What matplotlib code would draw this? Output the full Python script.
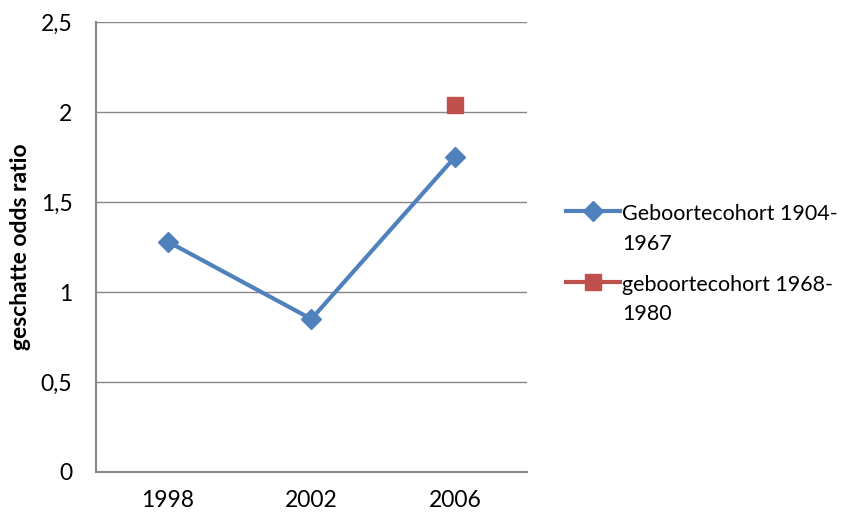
import matplotlib.pyplot as plt
from matplotlib.legend_handler import HandlerLine2D
from matplotlib.ticker import FuncFormatter

plt.rcParams['font.family'] = ['Lato', 'DejaVu Sans']

# data
years = ['1998', '2002', '2006']
cohort_old = [1.28, 0.85, 1.75]
cohort_young = [None, None, 2.04]
label_old = 'Geboortecohort 1904-\n1967'
label_young = 'geboortecohort 1968-\n1980'
y_ticks = [0, 0.5, 1, 1.5, 2, 2.5]


# legend handle lined up with the first line of a two-line label
class FirstLineHandler(HandlerLine2D):
    def __init__(self, shift, **kw):
        super().__init__(**kw)
        self.shift = shift

    def create_artists(self, legend, orig_handle, xdescent, ydescent,
                       width, height, fontsize, trans):
        arts = super().create_artists(legend, orig_handle, xdescent, ydescent,
                                      width, height, fontsize, trans)
        for a in arts:
            a.set_ydata([y + self.shift for y in a.get_ydata()])
        return arts


fig = plt.figure(figsize=(8.48, 5.16), dpi=100)
ax = fig.add_axes([0.1132, 0.0853, 0.508, 0.872])

x = range(len(years))
l1, = ax.plot(x, cohort_old, color='#4F81BD', lw=3, marker='D', ms=10,
              label=label_old, zorder=3)
l2, = ax.plot(x, [v if v is not None else float('nan') for v in cohort_young],
              color='#C0504D', lw=3, marker='s', ms=12, label=label_young, zorder=3)

ax.set_xlim(-0.5, len(years) - 0.5)
ax.set_ylim(0, 2.5)
ax.set_xticks(list(x))
ax.set_xticklabels(years)
ax.set_yticks(y_ticks)
ax.yaxis.set_major_formatter(FuncFormatter(lambda v, p: f'{v:g}'.replace('.', ',')))
ax.tick_params(axis='both', length=0, labelsize=16.5, colors='#000000')
ax.tick_params(axis='y', pad=17)
ax.tick_params(axis='x', pad=13)

ax.grid(axis='y', color='#868686', lw=1)
ax.set_axisbelow(True)
for s in ['top', 'right']:
    ax.spines[s].set_visible(False)
for s in ['left', 'bottom']:
    ax.spines[s].set_color('#868686')
    ax.spines[s].set_linewidth(1.5)

ax.set_ylabel('geschatte odds ratio', fontsize=16.5, fontweight='bold')
ax.yaxis.set_label_coords(-0.151, 0.5)

shift = 13
leg = ax.legend(loc='center left', bbox_to_anchor=(1.047, 0.462), frameon=False,
                fontsize=15.5, handlelength=2.5, handletextpad=0.1,
                labelspacing=0.98,
                handler_map={l1: FirstLineHandler(shift), l2: FirstLineHandler(shift)})
for t in leg.get_texts():
    t.set_linespacing(1.6)

fig.savefig('out.png', dpi=100)
